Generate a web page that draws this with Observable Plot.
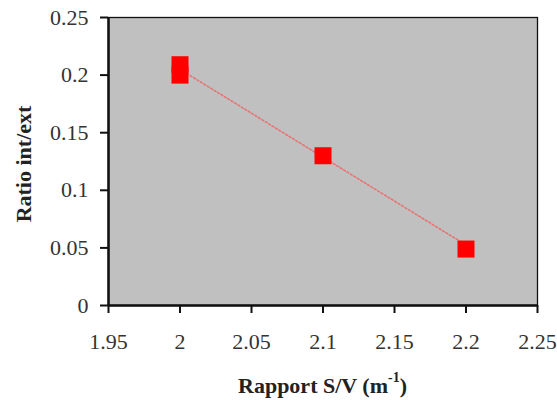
<!DOCTYPE html>
<html>
<head>
<meta charset="utf-8">
<script src="https://cdn.jsdelivr.net/npm/d3@7"></script>
<script src="https://cdn.jsdelivr.net/npm/@observablehq/plot@0.6"></script>
<style>
  body { margin: 0; background: #fff; }
  #chart svg { display: block; }
  #chart svg text { font-family: 'Liberation Serif', 'Times New Roman', Times, serif; }
</style>
</head>
<body>
<div id="chart"></div>
<script>
const ratioSV = [2, 2, 2.1, 2.2];
const ratioIntExt = [0.209, 0.200, 0.130, 0.049];
const trendX = [2, 2.2];
const trendY = [0.205, 0.0525];
const xTicks = [1.95, 2, 2.05, 2.1, 2.15, 2.2, 2.25];
const yTicks = [0, 0.05, 0.1, 0.15, 0.2, 0.25];
const xTitle = "Rapport S/V (m";
const xTitleSup = "-1";
const yTitle = "Ratio int/ext";

const points = ratioSV.map((x, i) => ({x, y: ratioIntExt[i]}));
const trend = trendX.map((x, i) => ({x, y: trendY[i]}));
const fmt = d => String(+d.toFixed(2));
const SERIF = "'Liberation Serif', 'Times New Roman', Times, serif";

const W = 557, H = 400;
const chart = Plot.plot({
  width: W,
  height: H,
  marginLeft: 108,
  marginRight: 20,
  marginTop: 17,
  marginBottom: 95,
  style: {fontFamily: SERIF, fontSize: "22px", color: "#333", background: "#fff"},
  x: {domain: [1.95, 2.25], ticks: xTicks, tickFormat: fmt, label: null},
  y: {domain: [0, 0.25], ticks: yTicks, tickFormat: fmt, label: null},
  marks: [
    Plot.frame({fill: "#c0c0c0"}),
    Plot.frame({stroke: "#111", strokeWidth: 1.3}),
    Plot.line(trend, {x: "x", y: "y", stroke: "#e8706e", strokeWidth: 1.5, strokeDasharray: "2,2"}),
    Plot.dot(points, {x: "x", y: "y", symbol: "square", r: 9.6, fill: "#ff0000", stroke: "none"}),
    Plot.axisX({ticks: xTicks, tickFormat: fmt, tickSize: 8, tickPadding: 20, stroke: "#111", strokeWidth: 2, fill: "#333", fontSize: 22, label: null}),
    Plot.axisY({ticks: yTicks, tickFormat: fmt, tickSize: 8, tickPadding: 12, stroke: "#111", strokeWidth: 2, fill: "#333", fontSize: 22, label: null}),
    Plot.ruleX([1.95], {stroke: "#111", strokeWidth: 2.5}),
    Plot.ruleY([0], {stroke: "#111", strokeWidth: 2.5})
  ]
});

const svg = d3.select(chart);
const xl = svg.append("text")
  .attr("x", (108 + (W - 20)) / 2)
  .attr("y", 393)
  .attr("text-anchor", "middle")
  .attr("font-weight", "bold")
  .attr("font-size", 22)
  .attr("fill", "#222")
  .text(xTitle);
xl.append("tspan").attr("dy", -11).attr("font-size", 14).text(xTitleSup);
xl.append("tspan").attr("dy", 11).text(")");

svg.append("text")
  .attr("transform", `translate(31, 164) rotate(-90)`)
  .attr("text-anchor", "middle")
  .attr("font-weight", "bold")
  .attr("font-size", 22)
  .attr("fill", "#222")
  .text(yTitle);

svg.selectAll("text").style("font-family", SERIF);

document.getElementById("chart").appendChild(chart);
</script>
</body>
</html>
